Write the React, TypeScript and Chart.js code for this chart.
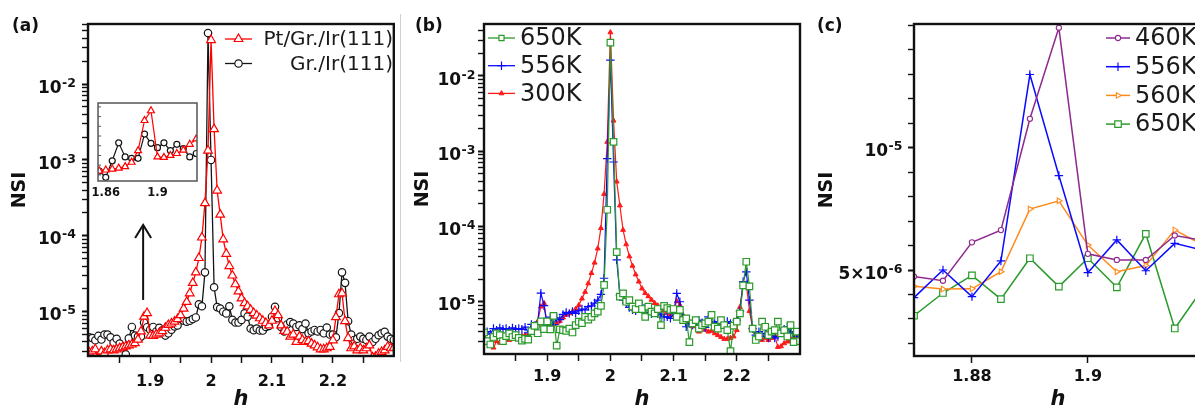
import React, { useEffect, useRef } from 'react';
import { Chart, registerables } from 'chart.js';
import { drawPoint } from 'chart.js/helpers';

Chart.register(...registerables);

const FONT = '"DejaVu Sans", "Liberation Sans", sans-serif';
const UNIT = 1e-6; // the series below are written in units of 1e-6

// ---------------- data ----------------
const H = [
  1.8, 1.805, 1.81, 1.815, 1.82, 1.825, 1.83, 1.835, 1.84, 1.845,
  1.85, 1.855, 1.86, 1.865, 1.87, 1.875, 1.88, 1.885, 1.89, 1.895,
  1.9, 1.905, 1.91, 1.915, 1.92, 1.925, 1.93, 1.935, 1.94, 1.945,
  1.95, 1.955, 1.96, 1.965, 1.97, 1.975, 1.98, 1.985, 1.99, 1.995,
  2.0, 2.005, 2.01, 2.015, 2.02, 2.025, 2.03, 2.035, 2.04, 2.045,
  2.05, 2.055, 2.06, 2.065, 2.07, 2.075, 2.08, 2.085, 2.09, 2.095,
  2.1, 2.105, 2.11, 2.115, 2.12, 2.125, 2.13, 2.135, 2.14, 2.145,
  2.15, 2.155, 2.16, 2.165, 2.17, 2.175, 2.18, 2.185, 2.19, 2.195,
  2.2, 2.205, 2.21, 2.215, 2.22, 2.225, 2.23, 2.235, 2.24, 2.245,
  2.25, 2.255, 2.26, 2.265, 2.27, 2.275, 2.28, 2.285, 2.29, 2.295,
  2.3,
];

// Pt/Gr./Ir(111)  (same measurement as 300K in panel b)
const PT_GR_IR = [
  2.9, 3.0, 3.2, 2.45, 3.0, 2.85, 3.1, 3.2, 3.1, 3.2,
  3.3, 3.4, 3.5, 3.6, 3.7, 3.85, 4.3, 5.5, 8.6, 9.6,
  4.85, 4.8, 5.0, 5.2, 5.55, 6.15, 6.7, 7.0, 7.4, 8.0,
  9.0, 11, 13.5, 17.5, 24, 33, 51, 95, 270, 1330,
  38000, 2550, 395, 190, 90, 58, 40, 30, 23, 18.5,
  15, 13, 11.8, 10.6, 9.6, 8.9, 8.2, 7.6, 7.1, 6.6,
  7.6, 10.2, 9.0, 6.6, 5.6, 5.45, 4.7, 5.0, 4.0, 4.7,
  4.24, 4.0, 4.1, 3.8, 3.6, 3.4, 3.2, 3.2, 3.3, 3.45,
  4.2, 8.5, 17, 17.5, 7.5, 4.5, 3.3, 3.5, 3.1, 3.3,
  3.1, 3.3, 3.6, 2.5, 2.55, 2.8, 2.95, 3.1, 3.45, 3.3,
  3.35,
];

// Gr./Ir(111)
const GR_IR = [
  4.6, 4.5, 4.2, 4.8, 4.3, 5.0, 5.0, 4.6, 3.9, 4.4,
  3.8, 3.4, 2.75, 4.45, 6.3, 4.85, 4.7, 4.7, 7.2, 6.25,
  5.8, 6.3, 5.5, 6.15, 5.7, 4.85, 5.2, 5.8, 6.4, 6.6,
  8.2, 7.6, 7.4, 7.6, 8.0, 8.4, 12.5, 11.8, 33, 47000,
  1000, 21, 11.5, 11, 10, 9.5, 11.8, 7.8, 7.2, 7.2,
  7.8, 9.5, 8.6, 6.0, 5.7, 6.0, 5.65, 5.65, 6.3, 6.5,
  8.6, 11.6, 8.2, 6.3, 5.5, 6.8, 7.3, 7.0, 6.3, 6.6,
  5.9, 7.0, 5.2, 5.5, 5.75, 5.5, 5.75, 5.2, 6.2, 5.0,
  5.0, 4.6, 9.6, 33, 24, 7.5, 5.0, 4.25, 4.4, 4.7,
  4.4, 4.25, 4.7, 4.0, 4.4, 4.9, 5.2, 5.45, 4.7, 4.4,
  4.25,
];

const K650 = [
  3.9, 3.0, 2.7, 3.4, 3.8, 3.6, 3.0, 3.5, 3.8, 3.4,
  3.6, 3.3, 3.05, 3.2, 3.13, 4.06, 4.78, 3.81, 5.48, 4.32,
  5.48, 4.29, 6.48, 2.61, 4.3, 4.2, 4.1, 4.4, 3.9, 4.9,
  5.45, 5.2, 6.3, 5.8, 6.3, 7.0, 7.4, 8.8, 16.7, 167,
  27700, 1330, 45.5, 11.7, 12.9, 10.0, 10.5, 8.6, 8.0, 9.5,
  8.0, 6.3, 8.6, 7.4, 7.0, 8.0, 4.9, 8.8, 8.2, 7.8,
  8.0, 6.3, 7.8, 5.7, 6.0, 2.9, 5.15, 5.7, 4.4, 4.9,
  5.15, 5.45, 6.7, 4.65, 4.4, 5.7, 4.9, 4.2, 2.2, 4.8,
  5.45, 7.0, 16.5, 34, 16, 4.4, 3.1, 3.45, 5.45, 4.65,
  3.6, 4.0, 4.2, 5.45, 3.8, 4.2, 3.45, 4.9, 2.9, 4.0,
  3.0,
];

const K556 = [
  3.2, 4.0, 3.7, 4.4, 4.2, 4.5, 4.3, 4.4, 4.2, 4.5,
  4.3, 4.4, 4.3, 4.6, 3.87, 5.0, 3.91, 5.37, 13.0, 8.86,
  4.89, 6.23, 4.97, 6.09, 5.8, 6.8, 7.2, 7.0, 7.4, 7.0,
  7.6, 8.0, 7.8, 8.6, 8.8, 9.6, 10.5, 12.5, 20.5, 800,
  16300, 720, 36, 12.3, 10.5, 9.5, 8.4, 7.8, 7.6, 8.2,
  9.0, 7.15, 6.9, 6.9, 7.15, 6.9, 6.7, 6.3, 6.3, 6.0,
  7.0, 12.9, 10.0, 6.3, 4.65, 5.15, 4.9, 4.75, 5.7, 5.25,
  4.55, 6.3, 5.45, 5.15, 5.45, 5.05, 5.15, 5.45, 5.15, 5.25,
  5.7, 7.5, 18.5, 25, 10.5, 4.4, 3.6, 4.0, 3.45, 3.8,
  3.3, 3.6, 3.3, 3.45, 4.0, 4.3, 4.65, 3.8, 4.0, 3.45,
  3.8,
];

const K300 = PT_GR_IR;

// panel (c)
const HC = [1.87, 1.875, 1.88, 1.885, 1.89, 1.895, 1.9, 1.905, 1.91, 1.915, 1.92];
const C460 = [4.73, 4.56, 6.13, 6.63, 11.18, 14.9, 5.66, 5.41, 5.41, 6.41, 6.2];
const C556 = [3.87, 5.0, 3.91, 5.37, 12.99, 8.86, 4.89, 6.23, 4.97, 6.09, 5.8];
const C560 = [4.34, 4.22, 4.23, 4.93, 7.49, 7.83, 6.02, 4.93, 5.18, 6.64, 6.0];
const C650 = [3.13, 4.06, 4.78, 3.81, 5.48, 4.32, 5.48, 4.29, 6.48, 2.61, 4.3];

// ticks
const X_LABELS_AB = [1.9, 2, 2.1, 2.2];
const X_TICKS_AB = [1.85, 1.9, 1.95, 2, 2.05, 2.1, 2.15, 2.2, 2.25];
const LOG_DECADES = [1e-6, 1e-5, 1e-4, 1e-3, 1e-2, 1e-1];
const LOG_MULT = [1, 2, 3, 4, 5, 6, 7, 8, 9];
const Y_LABELS_AB = [
  { v: 1e-2, base: '10', exp: '-2' },
  { v: 1e-3, base: '10', exp: '-3' },
  { v: 1e-4, base: '10', exp: '-4' },
  { v: 1e-5, base: '10', exp: '-5' },
];
const X_LABELS_C = [1.88, 1.9];
const Y_TICKS_C = [2e-6, 3e-6, 4e-6, 5e-6, 6e-6, 7e-6, 8e-6, 9e-6, 1e-5, 1.1e-5, 1.2e-5, 1.3e-5, 1.4e-5, 1.5e-5];
const Y_LABELS_C = [
  { v: 1e-5, base: '10', exp: '-5' },
  { v: 5e-6, base: '5\u00d710', exp: '-6' },
];
const INSET_X_LABELS = [1.86, 1.9];
const INSET_Y_TICKS = [3e-6, 4e-6, 5e-6, 6e-6, 7e-6, 8e-6, 9e-6, 1e-5];

// ---------------- helpers ----------------
const pts = (xs: number[], ys: number[]) => xs.map((x, i) => ({ x, y: ys[i] * UNIT }));

const LOG_TICKS: number[] = [];
LOG_DECADES.forEach((d) => LOG_MULT.forEach((m) => LOG_TICKS.push(m * d)));

const isDecade = (v: number) => Math.abs(Math.log10(v) - Math.round(Math.log10(v))) < 1e-6;
const inList = (v: number, list: number[]) => list.some((u) => Math.abs(u - v) < 1e-9);

type Mk = { color: string; style: string; r: number; fill: string; bw: number; rot?: number };

function ds(label: string, xs: number[], ys: number[], lw: number, m: Mk) {
  return {
    label,
    data: pts(xs, ys),
    borderColor: m.color,
    backgroundColor: m.color,
    borderWidth: lw,
    pointStyle: m.style,
    pointRadius: m.r,
    pointHoverRadius: m.r,
    pointBorderColor: m.color,
    pointBackgroundColor: m.fill,
    pointBorderWidth: m.bw,
    pointRotation: m.rot || 0,
    tension: 0,
    fill: false,
  };
}

function supLabel(ctx: any, xr: number, py: number, base: string, exp: string) {
  ctx.fillStyle = '#111';
  ctx.textAlign = 'left';
  ctx.textBaseline = 'alphabetic';
  ctx.font = `bold 12.5px ${FONT}`;
  const we = ctx.measureText(exp).width;
  ctx.font = `bold 17px ${FONT}`;
  const wb = ctx.measureText(base).width;
  const x0 = xr - we - wb;
  ctx.fillText(base, x0, py + 8.6);
  ctx.font = `bold 12.5px ${FONT}`;
  ctx.fillText(exp, x0 + wb + 0.5, py + 2.6);
}

function decoPlugin(d: any) {
  return {
    id: 'deco',
    beforeDatasetsDraw(chart: any) {
      if (!d.bg) return;
      const ca = chart.chartArea;
      chart.ctx.save();
      chart.ctx.fillStyle = d.bg;
      chart.ctx.fillRect(ca.left, ca.top, ca.right - ca.left, ca.bottom - ca.top);
      chart.ctx.restore();
    },
    afterDraw(chart: any) {
      const ctx = chart.ctx;
      const ca = chart.chartArea;
      const L0 = ca.left;
      const R0 = ca.right;
      const T0 = ca.top;
      const B0 = ca.bottom;
      const xs = chart.scales.x;
      const ys = chart.scales.y;
      ctx.save();
      if (d.innerYTicks) {
        ctx.fillStyle = d.frameColor;
        d.innerYTicks.forEach((v: number) => {
          const py = ys.getPixelForValue(v);
          if (py > T0 + 1 && py < B0 - 1) ctx.fillRect(L0, py - 0.5, 3, 1);
        });
      }
      ctx.strokeStyle = d.frameColor;
      ctx.lineWidth = d.frameW;
      ctx.strokeRect(L0, T0, R0 - L0, B0 - T0);

      (d.yLabels || []).forEach((l: any) => {
        supLabel(ctx, L0 - d.labelGap, ys.getPixelForValue(l.v), l.base, l.exp);
      });

      if (d.tag) {
        ctx.fillStyle = '#111';
        ctx.font = `bold 17px ${FONT}`;
        ctx.textAlign = 'left';
        ctx.textBaseline = 'alphabetic';
        ctx.fillText(d.tag, d.tagX, 31);
      }

      const seg = (x1: number, y1: number, x2: number, y2: number) => {
        ctx.beginPath();
        ctx.moveTo(x1, y1);
        ctx.lineTo(x2, y2);
        ctx.stroke();
      };

      if (d.arrow) {
        const ax = xs.getPixelForValue(d.arrow.x);
        const y0 = ys.getPixelForValue(d.arrow.y0);
        const y1 = ys.getPixelForValue(d.arrow.y1);
        ctx.strokeStyle = '#111';
        ctx.lineWidth = 2;
        seg(ax, y0, ax, y1);
        ctx.beginPath();
        ctx.moveTo(ax - 8, y1 + 13);
        ctx.lineTo(ax, y1);
        ctx.lineTo(ax + 8, y1 + 13);
        ctx.stroke();
      }

      if (d.legend) {
        const L = d.legend;
        L.items.forEach((it: any, i: number) => {
          const y = L.y0 + i * L.dy;
          ctx.strokeStyle = it.color;
          ctx.lineWidth = it.lw;
          seg(L.x0, y, L.x1, y);
          ctx.fillStyle = it.fill;
          ctx.lineWidth = it.bw;
          drawPoint(ctx, { pointStyle: it.style, radius: it.r, rotation: it.rot || 0, borderWidth: it.bw } as any, L.mx, y);
          ctx.fillStyle = '#1a1a1a';
          ctx.font = `${L.size}px ${FONT}`;
          ctx.textBaseline = 'middle';
          ctx.textAlign = L.align;
          ctx.fillText(it.text, L.textX, y + 1);
        });
      }
      ctx.restore();
    },
  };
}

function mainOptions(c: any) {
  const tickGrid = (len: number, widthFn: any) => ({
    display: true,
    drawOnChartArea: false,
    drawTicks: true,
    tickLength: len,
    tickWidth: widthFn,
    tickColor: '#111',
    offset: false,
  });
  return {
    animation: false,
    responsive: false,
    maintainAspectRatio: false,
    events: [],
    layout: { padding: { left: 0, top: c.padT ?? 24, right: c.padR, bottom: 0 } },
    plugins: { legend: { display: false }, tooltip: { enabled: false } },
    scales: {
      x: {
        type: 'linear',
        min: c.xMin,
        max: c.xMax,
        afterFit: (s: any) => { s.height = c.xHeight; },
        afterBuildTicks: (s: any) => {
          s.ticks = c.xTicks.filter((v: number) => v > c.xMin && v < c.xMax).map((v: number) => ({ value: v }));
        },
        grid: c.xTickLen ? tickGrid(c.xTickLen, 1.5) : { display: false, drawTicks: false },
        border: { display: false },
        ticks: {
          autoSkip: false,
          maxRotation: 0,
          padding: c.xPad,
          color: '#111',
          font: { family: FONT, size: c.xFont ?? 16, weight: 'bold' },
          callback: (v: number) => (inList(v, c.xLabels) ? String(Math.round(v * 1000) / 1000) : ''),
        },
        title: c.noTitles ? { display: false } : {
          display: true,
          text: 'h',
          color: '#111',
          font: { family: FONT, size: 21, weight: 'bold', style: 'italic' },
          padding: { top: 0, bottom: 0 },
        },
      },
      y: {
        type: c.yType,
        min: c.yMin,
        max: c.yMax,
        afterFit: (s: any) => { s.width = c.yWidth; },
        afterBuildTicks: (s: any) => {
          if (c.yTicks) s.ticks = c.yTicks.filter((v: number) => v > c.yMin && v < c.yMax).map((v: number) => ({ value: v }));
        },
        grid: c.yTickLen
          ? tickGrid(c.yTickLen, (ctx: any) => (ctx.tick && c.yMajorTest(ctx.tick.value) ? 2 : 1.4))
          : { display: false, drawTicks: false },
        border: { display: false },
        ticks: { display: false },
        title: c.noTitles ? { display: false } : {
          display: true,
          text: 'NSI',
          color: '#111',
          font: { family: FONT, size: 19, weight: 'bold' },
          padding: { top: c.nsiPad, bottom: 0 },
        },
      },
    },
  };
}

// marker styles
const RED_A: Mk = { color: '#ff0000', style: 'triangle', r: 5, fill: '#ffffff', bw: 1.2 };
const BLK_A: Mk = { color: '#151515', style: 'circle', r: 3.7, fill: '#ffffff', bw: 1.2 };
const RED_B: Mk = { color: '#ff1a1a', style: 'triangle', r: 2.8, fill: '#ff1a1a', bw: 1 };
const BLU: Mk = { color: '#0a0aff', style: 'cross', r: 4.2, fill: '#0a0aff', bw: 1.2 };
const GRN: Mk = { color: '#2a9a2a', style: 'rect', r: 4.6, fill: '#ffffff', bw: 1.2 };
const PUR: Mk = { color: '#8e2a8e', style: 'circle', r: 2.6, fill: '#ffffff', bw: 1.1 };
const ORG: Mk = { color: '#ff8a1c', style: 'triangle', r: 3.2, fill: '#ffffff', bw: 1.1, rot: 90 };

export default function App() {
  const aRef = useRef<HTMLCanvasElement>(null);
  const insRef = useRef<HTMLCanvasElement>(null);
  const bRef = useRef<HTMLCanvasElement>(null);
  const cRef = useRef<HTMLCanvasElement>(null);

  useEffect(() => {
    const chartA = new Chart(aRef.current as HTMLCanvasElement, {
      type: 'line',
      data: {
        datasets: [
          ds('Pt/Gr./Ir(111)', H, PT_GR_IR, 1.3, RED_A),
          ds('Gr./Ir(111)', H, GR_IR, 1.3, BLK_A),
        ],
      },
      options: mainOptions({
        xMin: 1.798, xMax: 2.3, xHeight: 56, padR: 2, xPad: 9, xTicks: X_TICKS_AB, xLabels: X_LABELS_AB, xTickLen: 7,
        yType: 'logarithmic', yMin: 2.61e-6, yMax: 0.0618, yWidth: 88, nsiPad: 8.6,
        yTicks: LOG_TICKS, yTickLen: 6, yMajorTest: isDecade,
      }) as any,
      plugins: [decoPlugin({
        frameColor: '#111', frameW: 2.4,
        yLabels: Y_LABELS_AB, labelGap: 12.5,
        tag: '(a)', tagX: 12,
        arrow: { x: 1.8885, y0: 1.43e-5, y1: 1.39e-4 },
        legend: {
          x0: 225, x1: 252, mx: 238.5, textX: 393, align: 'right', y0: 39, dy: 24.5, size: 20,
          items: [
            { text: 'Pt/Gr./Ir(111)', ...RED_A, lw: 1.3 },
            { text: 'Gr./Ir(111)', ...BLK_A, lw: 1.3 },
          ],
        },
      })],
    });

    const chartIns = new Chart(insRef.current as HTMLCanvasElement, {
      type: 'line',
      data: {
        datasets: [
          ds('Pt/Gr./Ir(111)', H, PT_GR_IR, 1.2, { ...RED_A, r: 4 }),
          ds('Gr./Ir(111)', H, GR_IR, 1.2, { ...BLK_A, r: 3 }),
        ],
      },
      options: mainOptions({
        xMin: 1.854, xMax: 1.9306, xHeight: 19, padR: 9, padT: 8, xPad: 4.8, xTicks: INSET_X_LABELS, xLabels: INSET_X_LABELS, xFont: 11.5,
        yType: 'linear', yMin: 2.37e-6, yMax: 1.04e-5, yWidth: 10, noTitles: true,
      }) as any,
      plugins: [decoPlugin({
        bg: '#ffffff', frameColor: '#555', frameW: 1.5,
        innerYTicks: INSET_Y_TICKS,
      })],
    });

    const chartB = new Chart(bRef.current as HTMLCanvasElement, {
      type: 'line',
      data: {
        datasets: [
          ds('650K', H, K650, 1.2, GRN),
          ds('556K', H, K556, 1.2, BLU),
          ds('300K', H, K300, 1.2, RED_B),
        ],
      },
      options: mainOptions({
        xMin: 1.8, xMax: 2.3, xHeight: 58, padR: 10, xPad: 6, xTicks: X_TICKS_AB, xLabels: X_LABELS_AB, xTickLen: 7,
        yType: 'logarithmic', yMin: 2.02e-6, yMax: 0.0491, yWidth: 84, nsiPad: 11.6,
        yTicks: LOG_TICKS, yTickLen: 6, yMajorTest: isDecade,
      }) as any,
      plugins: [decoPlugin({
        frameColor: '#111', frameW: 2.4,
        yLabels: Y_LABELS_AB, labelGap: 9,
        tag: '(b)', tagX: 15,
        legend: {
          x0: 88, x1: 115, mx: 101.5, textX: 120, align: 'left', y0: 38, dy: 27.7, size: 24,
          items: [
            { text: '650K', ...GRN, r: 3.6, lw: 1.3 },
            { text: '556K', ...BLU, lw: 1.3 },
            { text: '300K', ...RED_B, lw: 1.3 },
          ],
        },
      })],
    });

    const chartC = new Chart(cRef.current as HTMLCanvasElement, {
      type: 'line',
      data: {
        datasets: [
          ds('460K', HC, C460, 1.5, PUR),
          ds('556K', HC, C556, 1.5, BLU),
          ds('560K', HC, C560, 1.5, ORG),
          ds('650K', HC, C650, 1.5, GRN),
        ],
      },
      options: mainOptions({
        xMin: 1.87, xMax: 1.9197, xHeight: 56, padR: 8, xPad: 4, xTicks: X_LABELS_C, xLabels: X_LABELS_C, xTickLen: 7,
        yType: 'linear', yMin: 1.485e-6, yMax: 1.5055e-5, yWidth: 104, nsiPad: 5.6,
        yTicks: Y_TICKS_C, yTickLen: 6, yMajorTest: (v: number) => inList(v, [5e-6, 1e-5]),
      }) as any,
      plugins: [decoPlugin({
        frameColor: '#111', frameW: 2.4,
        yLabels: Y_LABELS_C, labelGap: 12,
        tag: '(c)', tagX: 7,
        legend: {
          x0: 296, x1: 320, mx: 308, textX: 325, align: 'left', y0: 38, dy: 28.7, size: 24,
          items: [
            { text: '460K', ...PUR, lw: 1.5 },
            { text: '556K', ...BLU, lw: 1.5 },
            { text: '560K', ...ORG, lw: 1.5 },
            { text: '650K', ...GRN, lw: 1.5 },
          ],
        },
      })],
    });

    return () => {
      chartA.destroy();
      chartIns.destroy();
      chartB.destroy();
      chartC.destroy();
    };
  }, []);

  const abs = (left: number, top: number, w: number, h: number): React.CSSProperties => ({
    position: 'absolute', left, top, width: w, height: h,
  });

  return (
    <div style={{ position: 'absolute', left: 0, top: 0, width: 1195, height: 412, overflow: 'hidden', background: '#ffffff' }}>
      <canvas ref={aRef} width={400} height={412} style={abs(0, 0, 400, 412)} />
      <canvas ref={bRef} width={410} height={412} style={abs(400, 0, 410, 412)} />
      <canvas ref={cRef} width={400} height={412} style={abs(810, 0, 400, 412)} />
      <canvas ref={insRef} width={120} height={105} style={abs(86, 95, 120, 105)} />
      <div style={{ position: 'absolute', left: 400, top: 14, width: 1, height: 348, background: '#d0d0d0' }} />
    </div>
  );
}
